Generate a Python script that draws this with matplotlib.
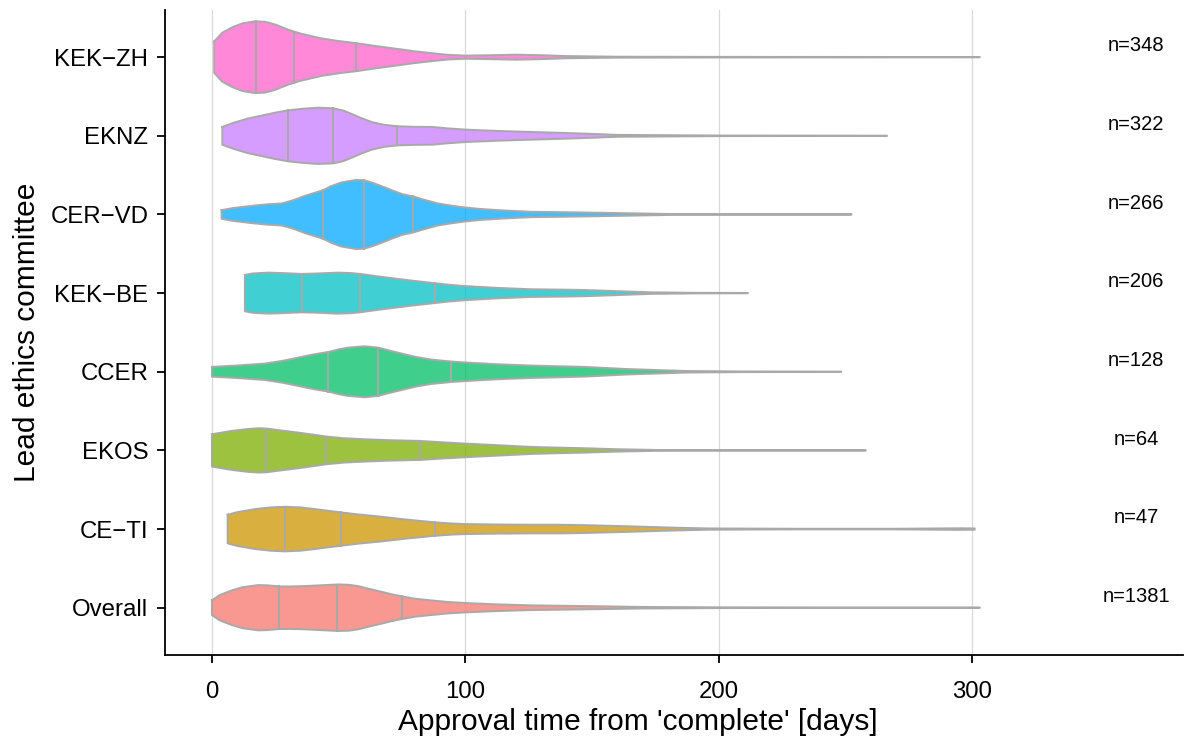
import numpy as np
import matplotlib
matplotlib.use("Agg")
import matplotlib.pyplot as plt

plt.rcParams['font.family'] = ['Liberation Sans', 'DejaVu Sans']

# categories bottom -> top
categories = ["Overall", "CE\u2212TI", "EKOS", "CCER", "KEK\u2212BE", "CER\u2212VD", "EKNZ", "KEK\u2212ZH"]
counts = ["n=1381", "n=47", "n=64", "n=128", "n=206", "n=266", "n=322", "n=348"]
colors = ["#F8766D", "#CD9600", "#7CAE00", "#00BE67", "#00BFC4", "#00A9FF", "#C77CFF", "#FF61CC"]

# violin profiles: approval days and half-widths (category units)
overall_days = [0, 3, 7.8, 12, 18.3, 22, 26.8, 31, 36.7, 43, 49.8, 54, 57.7, 62, 66.9, 71, 75, 80, 86.6, 93, 99.8, 113, 126, 147, 170, 200, 250, 303]
overall_hw = [0.093, 0.16, 0.22, 0.26, 0.288, 0.284, 0.271, 0.27, 0.275, 0.285, 0.296, 0.292, 0.275, 0.24, 0.203, 0.17, 0.144, 0.115, 0.093, 0.073, 0.06, 0.042, 0.03, 0.021, 0.01, 0.005, 0.003, 0.002]
ceti_days = [6.2, 10, 17, 23, 28.8, 35, 40.6, 46, 50.9, 58, 66.9, 77, 88.2, 95, 99.8, 113, 126, 137, 147, 165, 180, 196, 230, 270, 295, 301]
ceti_hw = [0.182, 0.215, 0.254, 0.275, 0.284, 0.275, 0.254, 0.232, 0.212, 0.185, 0.157, 0.12, 0.085, 0.07, 0.064, 0.058, 0.055, 0.055, 0.05, 0.035, 0.02, 0.008, 0.004, 0.004, 0.01, 0.008]
ekos_days = [0, 7.8, 14, 18.3, 21.5, 27, 34, 40, 45.2, 52, 60.3, 70, 82, 90, 99.8, 113, 126, 137, 147, 160, 175, 200, 258]
ekos_hw = [0.206, 0.248, 0.272, 0.282, 0.278, 0.255, 0.227, 0.2, 0.176, 0.155, 0.142, 0.13, 0.121, 0.105, 0.087, 0.066, 0.045, 0.035, 0.028, 0.015, 0.006, 0.003, 0.002]
ccer_days = [0, 10, 20.9, 28, 34, 40, 45.9, 50, 53.7, 60.3, 65.6, 70, 76.1, 81, 86.6, 94.5, 100, 113, 126, 137, 147, 163.5, 187, 210, 248.3]
ccer_hw = [0.062, 0.08, 0.104, 0.14, 0.18, 0.22, 0.252, 0.285, 0.307, 0.324, 0.307, 0.27, 0.222, 0.185, 0.155, 0.13, 0.118, 0.095, 0.079, 0.07, 0.062, 0.035, 0.01, 0.004, 0.002]
kekbe_days = [13, 16, 22.2, 28, 35.4, 42, 49.8, 55, 58.4, 65, 73.5, 80, 88, 94, 99.8, 113, 126, 137, 147, 160, 173, 190, 211.5]
kekbe_hw = [0.231, 0.25, 0.261, 0.255, 0.244, 0.25, 0.261, 0.255, 0.244, 0.215, 0.18, 0.155, 0.126, 0.105, 0.09, 0.066, 0.049, 0.045, 0.04, 0.025, 0.01, 0.004, 0.002]
cervd_days = [3.8, 8, 15.6, 22, 27.5, 32, 36.7, 40, 43.9, 47, 51, 57, 60, 63, 67, 70.9, 75, 79.4, 84, 89.2, 95, 99.8, 106, 113, 126, 137, 147, 165, 181, 210, 252.4]
cervd_hw = [0.055, 0.08, 0.11, 0.13, 0.14, 0.18, 0.237, 0.27, 0.309, 0.36, 0.407, 0.44, 0.435, 0.407, 0.36, 0.309, 0.26, 0.229, 0.185, 0.14, 0.11, 0.089, 0.07, 0.055, 0.034, 0.03, 0.025, 0.015, 0.006, 0.003, 0.002]
eknz_days = [4.1, 8, 14, 20, 25, 30, 36, 42, 48, 52, 55, 59, 63, 68, 73.5, 80, 87, 93, 100, 113, 126, 139, 150, 160, 200, 266.4]
eknz_hw = [0.113, 0.16, 0.219, 0.26, 0.295, 0.324, 0.345, 0.358, 0.35, 0.32, 0.28, 0.225, 0.176, 0.14, 0.121, 0.115, 0.113, 0.095, 0.079, 0.062, 0.049, 0.037, 0.025, 0.012, 0.004, 0.002]
kekzh_days = [0.9, 4, 8, 12, 17, 21, 25, 30, 35, 43, 50, 57, 65, 73, 80, 87, 93, 100, 110, 120, 130, 140, 160, 200, 250, 303]
kekzh_hw = [0.20, 0.31, 0.38, 0.43, 0.457, 0.45, 0.415, 0.35, 0.30, 0.24, 0.205, 0.178, 0.14, 0.106, 0.075, 0.05, 0.03, 0.02, 0.025, 0.032, 0.025, 0.014, 0.006, 0.004, 0.003, 0.002]

profiles_days = [overall_days, ceti_days, ekos_days, ccer_days, kekbe_days, cervd_days, eknz_days, kekzh_days]
profiles_hw = [overall_hw, ceti_hw, ekos_hw, ccer_hw, kekbe_hw, cervd_hw, eknz_hw, kekzh_hw]

# quartiles (25%, 50%, 75%)
quartiles = [
    [26.5, 49.2, 75.0],   # Overall
    [28.8, 50.9, 88.2],   # CE-TI
    [21.5, 45.2, 82.0],   # EKOS
    [45.9, 65.6, 94.5],   # CCER
    [35.4, 58.4, 88.2],   # KEK-BE
    [43.9, 59.9, 79.4],   # CER-VD
    [30.0, 47.6, 73.2],   # EKNZ
    [17.2, 32.5, 56.9],   # KEK-ZH
]

fig = plt.figure(figsize=(11.9, 7.4), dpi=100)
ax = fig.add_axes([0.1387, 0.115, 0.855, 0.8715])

edge = "#A9A9A9"
for i, (d, h) in enumerate(zip(profiles_days, profiles_hw)):
    d = np.asarray(d, float)
    h = np.asarray(h, float)
    y = i + 1
    xs = np.concatenate([d, d[::-1]])
    ys = np.concatenate([y + h, (y - h)[::-1]])
    ax.fill(xs, ys, facecolor=colors[i], alpha=0.75, edgecolor="none", zorder=3)
    ax.plot(np.append(xs, xs[0]), np.append(ys, ys[0]), color=edge, lw=1.4,
            solid_joinstyle="round", zorder=4)
    for q in quartiles[i]:
        w = np.interp(q, d, h)
        ax.plot([q, q], [y - w, y + w], color=edge, lw=1.4, zorder=4)
    ax.text(364.7, y + 0.145, counts[i], ha="center", va="center", fontsize=14.5, color="black")

ax.set_xlim(-18.5, 383)
ax.set_ylim(0.4, 8.6)
ax.set_yticks(range(1, 9))
ax.set_yticklabels(categories)
ax.set_xticks([0, 100, 200, 300])
ax.grid(axis="x", color="#D9D9D9", lw=0.9, zorder=0)
ax.set_axisbelow(True)
for s in ["top", "right"]:
    ax.spines[s].set_visible(False)
for s in ["left", "bottom"]:
    ax.spines[s].set_linewidth(1.3)
ax.tick_params(axis="both", labelsize=17.3, length=6, width=1.3, colors="black")
ax.tick_params(axis="x", pad=12.5)
ax.tick_params(axis="y", pad=6)
ax.set_xlabel("Approval time from 'complete' [days]", fontsize=21.5, labelpad=4)
ax.xaxis.label.set_x(0.4646)
ax.set_ylabel("Lead ethics committee", fontsize=21.5, labelpad=7)

fig.savefig("out.png", dpi=100)
